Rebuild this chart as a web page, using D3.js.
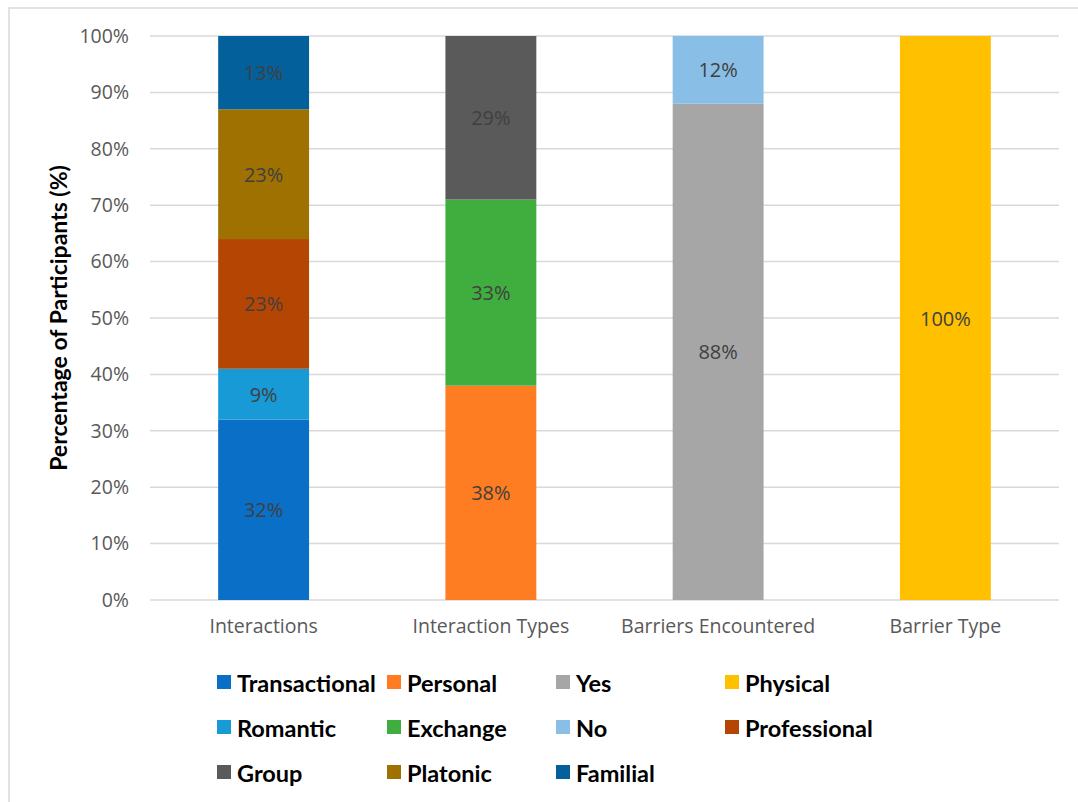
<!DOCTYPE html>
<html>
<head>
<meta charset="utf-8">
<script src="https://cdn.jsdelivr.net/npm/d3@7"></script>
<style>
  body { margin: 0; background: #fff; }
  svg { display: block; }
</style>
</head>
<body>
<div id="chart"></div>
<script>
// categories on the x axis
var categories = ["Interactions", "Interaction Types", "Barriers Encountered", "Barrier Type"];

// each series belongs to one category, stacked bottom to top in this order
var seriesNames = ["Transactional", "Romantic", "Professional", "Platonic", "Familial",
                   "Personal", "Exchange", "Group",
                   "Yes", "No",
                   "Physical"];
var seriesCategory = [0, 0, 0, 0, 0, 1, 1, 1, 2, 2, 3];
var seriesValues = [32, 9, 23, 23, 13, 38, 33, 29, 88, 12, 100];
var seriesColors = ["#0a6fc6", "#179ad6", "#b54503", "#9f7100", "#03609a",
                    "#ff7d22", "#40ad3f", "#5a5a5a",
                    "#a6a6a6", "#89bfe6",
                    "#ffc000"];

// legend order, as in the picture (row by row)
var legendOrder = ["Transactional", "Personal", "Yes", "Physical",
                   "Romantic", "Exchange", "No", "Professional",
                   "Group", "Platonic", "Familial"];

var yTicks = [0, 10, 20, 30, 40, 50, 60, 70, 80, 90, 100];

var width = 1078, height = 802;

var svg = d3.select("#chart")
    .append("svg")
    .attr("width", width)
    .attr("height", height);

// outer frame
svg.append("rect")
    .attr("x", 9)
    .attr("y", 8)
    .attr("width", 1200)
    .attr("height", 1000)
    .attr("fill", "#fff")
    .attr("stroke", "#d9d9d9")
    .attr("stroke-width", 1.5);

var x = d3.scaleBand()
    .domain(categories)
    .range([150, 1059])
    .paddingInner(0.6)
    .paddingOuter(0.3);

var y = d3.scaleLinear()
    .domain([0, 100])
    .range([600, 36]);

// gridlines
svg.selectAll(".grid")
    .data(yTicks)
    .enter()
    .append("line")
    .attr("class", "grid")
    .attr("x1", 150)
    .attr("x2", 1059)
    .attr("y1", function (d) { return y(d); })
    .attr("y2", function (d) { return y(d); })
    .attr("stroke", "#d9d9d9")
    .attr("stroke-width", 1.5);

// y axis tick labels
var yAxis = d3.axisLeft(y)
    .tickValues(yTicks)
    .tickSize(0)
    .tickPadding(21)
    .tickFormat(function (d) { return d + "%"; });

var yg = svg.append("g")
    .attr("transform", "translate(150,0)")
    .call(yAxis);
yg.select(".domain").remove();
yg.selectAll("text")
    .attr("fill", "#595959")
    .style("font-family", "'Open Sans', sans-serif")
    .style("font-size", "19.5px");

// x axis labels
var xAxis = d3.axisBottom(x).tickSize(0).tickPadding(19);
var xg = svg.append("g")
    .attr("transform", "translate(0,600)")
    .call(xAxis);
xg.select(".domain").remove();
xg.selectAll("text")
    .attr("fill", "#595959")
    .style("font-family", "'Open Sans', sans-serif")
    .style("font-size", "19.5px");

// build stacked segments
var segments = [];
var running = categories.map(function () { return 0; });
seriesNames.forEach(function (name, i) {
    var c = seriesCategory[i];
    segments.push({
        name: name,
        category: categories[c],
        y0: running[c],
        y1: running[c] + seriesValues[i],
        value: seriesValues[i],
        color: seriesColors[i]
    });
    running[c] += seriesValues[i];
});

svg.selectAll(".seg")
    .data(segments)
    .enter()
    .append("rect")
    .attr("class", "seg")
    .attr("x", function (d) { return x(d.category); })
    .attr("width", x.bandwidth())
    .attr("y", function (d) { return y(d.y1); })
    .attr("height", function (d) { return y(d.y0) - y(d.y1); })
    .attr("fill", function (d) { return d.color; });

svg.selectAll(".seg_label")
    .data(segments)
    .enter()
    .append("text")
    .attr("class", "seg_label")
    .attr("x", function (d) { return x(d.category) + x.bandwidth() / 2; })
    .attr("y", function (d) { return y((d.y0 + d.y1) / 2); })
    .attr("text-anchor", "middle")
    .attr("dominant-baseline", "central")
    .attr("fill", "#404040")
    .style("font-family", "'Open Sans', sans-serif")
    .style("font-size", "20px")
    .text(function (d) { return d.value + "%"; });

// y axis title
svg.append("text")
    .attr("transform", "translate(58,318) rotate(-90)")
    .attr("text-anchor", "middle")
    .attr("dominant-baseline", "central")
    .attr("fill", "#000")
    .style("font-family", "Lato, sans-serif")
    .style("font-weight", "bold")
    .style("font-size", "23px")
    .text("Percentage of Participants (%)");

// legend
var legendCols = [217, 387, 556, 725];
var legendRows = [682, 727, 772];
var colorOf = {};
seriesNames.forEach(function (n, i) { colorOf[n] = seriesColors[i]; });

var item = svg.selectAll(".legend_item")
    .data(legendOrder)
    .enter()
    .append("g")
    .attr("class", "legend_item")
    .attr("transform", function (d, i) {
        return "translate(" + legendCols[i % 4] + "," + legendRows[Math.floor(i / 4)] + ")";
    });

item.append("rect")
    .attr("x", 0)
    .attr("y", -7)
    .attr("width", 14)
    .attr("height", 14)
    .attr("fill", function (d) { return colorOf[d]; });

item.append("text")
    .attr("x", 20)
    .attr("y", 1)
    .attr("dominant-baseline", "central")
    .attr("fill", "#000")
    .style("font-family", "Lato, sans-serif")
    .style("font-weight", "bold")
    .style("font-size", "23.5px")
    .text(function (d) { return d; });
</script>
</body>
</html>
